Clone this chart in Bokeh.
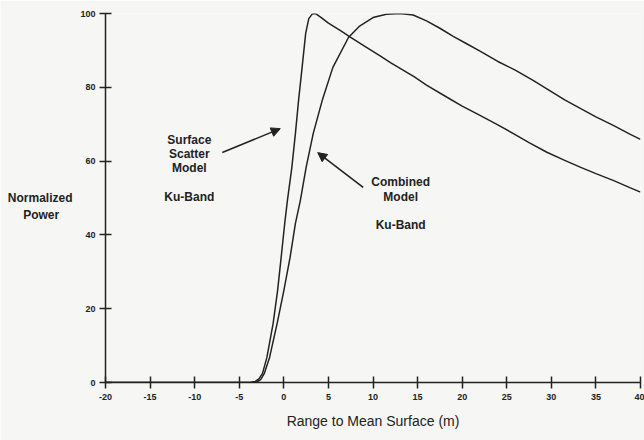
from bokeh.plotting import figure
from bokeh.models import Range1d, FixedTicker, Arrow, NormalHead
from bokeh.embed import file_html
from bokeh.resources import INLINE
from bokeh.core.properties import value

# ---- data ----
surface_x = [-20, -3.8, -3.2, -2.8, -2.4, -1.9, -1.2, -0.7, -0.3, 0.1, 0.4, 0.9, 1.3, 1.65,
             2.05, 2.45, 2.8, 3.2, 3.6, 4.2, 5.0, 6.4, 7.5, 9.0, 10.8, 12.0, 14.6, 16.0,
             18.3, 20.0, 22.0, 24.0, 25.8, 27.5, 29.5, 31.5, 33.3, 35.0, 37.0, 38.8, 40.0]
surface_y = [0, 0, 0.3, 1.0, 2.4, 6.8, 16.0, 24.9, 33.9, 43.1, 49.3, 58.3, 67.5, 76.4,
             85.4, 94.6, 98.6, 99.9, 99.9, 98.9, 97.4, 95.3, 93.5, 91.2, 88.5, 86.6, 82.9, 80.6,
             77.3, 74.9, 72.4, 69.8, 67.4, 65.0, 62.4, 60.2, 58.3, 56.6, 54.7, 52.8, 51.6]

combined_x = [-20, -3.6, -3.0, -2.6, -2.2, -1.6, -0.75, 0.0, 0.7, 1.3, 1.85, 2.5, 3.3, 4.3,
              5.5, 7.25, 8.5, 10.0, 11.5, 13.0, 14.5, 16.0, 17.5, 19.0, 20.5, 22.0, 24.0,
              26.0, 28.0, 29.5, 31.5, 33.3, 35.0, 37.0, 38.8, 40.0]
combined_y = [0, 0, 0.2, 0.8, 2.4, 6.8, 16.0, 24.9, 33.9, 43.1, 49.3, 58.3, 67.5, 76.4,
              85.4, 93.5, 96.6, 98.9, 99.8, 100.0, 99.6, 98.0, 96.0, 93.8, 91.8, 89.8, 87.0,
              84.6, 81.8, 79.6, 76.6, 74.2, 72.0, 69.6, 67.3, 65.9]

x_ticks = [-20, -15, -10, -5, 0, 5, 10, 15, 20, 25, 30, 35, 40]
y_ticks = [0, 20, 40, 60, 80, 100]

x_title = "Range to Mean Surface (m)"
y_title_lines = ["Normalized", "Power"]
surface_note = ["Surface", "Scatter", "Model", "Ku-Band"]
combined_note = ["Combined", "Model", "Ku-Band"]

INK = "#222222"
PAPER = "#f6f7f5"
FONT = "Liberation Sans"
NBSP = "\u00a0"

p = figure(width=644, height=440, output_backend="svg", toolbar_location=None,
           x_range=Range1d(-20, 40), y_range=Range1d(0, 100),
           min_border_left=105, min_border_right=4, min_border_top=13, min_border_bottom=58,
           background_fill_color=PAPER, border_fill_color=PAPER)
p.outline_line_color = None
p.grid.visible = False

for ax, ticks in ((p.xaxis[0], x_ticks), (p.yaxis[0], y_ticks)):
    ax.ticker = FixedTicker(ticks=ticks, minor_ticks=[])
    ax.major_label_overrides = {t: str(t) for t in ticks}
    ax.axis_line_color = INK
    ax.axis_line_width = 1.5
    ax.major_tick_line_color = INK
    ax.major_tick_line_width = 1.5
    ax.major_tick_in = 6
    ax.major_tick_out = 6
    ax.minor_tick_line_color = None
    ax.major_label_text_font = FONT
    ax.major_label_text_font_style = "bold"
    ax.major_label_text_font_size = "9px"
    ax.major_label_text_color = INK
    ax.axis_label_text_font = FONT
    ax.axis_label_text_color = INK
p.xaxis.major_label_standoff = 5
p.yaxis.major_label_standoff = 4

p.xaxis.axis_label = x_title
p.xaxis.axis_label_text_font_size = "14px"
p.xaxis.axis_label_text_font_style = "normal"
p.xaxis.axis_label_standoff = 10

# multi-line horizontal y title (blank first line nudges block down,
# trailing no-break spaces centre "Power" under "Normalized")
p.yaxis.axis_label = NBSP + "\n" + y_title_lines[0] + "\n" + y_title_lines[1] + NBSP * 4
p.yaxis.axis_label_orientation = "horizontal"
p.yaxis.axis_label_text_font_size = "12px"
p.yaxis.axis_label_text_font_style = "bold"
p.yaxis.axis_label_text_align = "center"
p.yaxis.axis_label_standoff = 5

# curves
p.line(surface_x, surface_y, line_color=INK, line_width=1.5)
p.line(combined_x, combined_y, line_color=INK, line_width=1.5)

# annotations inside plot
p.text(x=[-10.6] * 4, y=[65.8, 62.0, 58.1, 50.2], text=surface_note,
       text_font=value(FONT), text_font_style="bold", text_font_size="12px",
       text_color=INK, text_align="center", text_baseline="middle")
p.text(x=[13.1] * 3, y=[54.3, 50.4, 42.8], text=combined_note,
       text_font=value(FONT), text_font_style="bold", text_font_size="12px",
       text_color=INK, text_align="center", text_baseline="middle")

p.add_layout(Arrow(x_start=-6.9, y_start=62.3, x_end=-0.4, y_end=68.8,
                   line_color=INK, line_width=1.6,
                   end=NormalHead(size=9, fill_color=INK, line_color=INK)))
p.add_layout(Arrow(x_start=8.9, y_start=52.9, x_end=3.8, y_end=62.3,
                   line_color=INK, line_width=1.6,
                   end=NormalHead(size=9, fill_color=INK, line_color=INK)))

html = file_html(p, INLINE)
html = html.replace("<body>", '<body style="background:%s">' % PAPER, 1)
open("out.html", "w").write(html)
